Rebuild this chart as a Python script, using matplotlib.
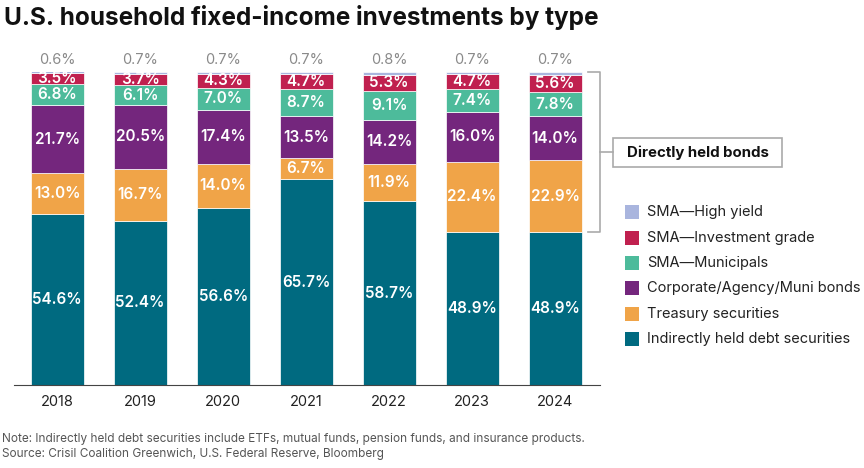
import numpy as np
import matplotlib.pyplot as plt
from matplotlib.patches import Rectangle

years = ["2018", "2019", "2020", "2021", "2022", "2023", "2024"]
indirect = [54.6, 52.4, 56.6, 65.7, 58.7, 48.9, 48.9]
treasury = [13.0, 16.7, 14.0, 6.7, 11.9, 22.4, 22.9]
corporate = [21.7, 20.5, 17.4, 13.5, 14.2, 16.0, 14.0]
sma_muni = [6.8, 6.1, 7.0, 8.7, 9.1, 7.4, 7.8]
sma_ig = [3.5, 3.7, 4.3, 4.7, 5.3, 4.7, 5.6]
sma_hy = [0.6, 0.7, 0.7, 0.7, 0.8, 0.7, 0.7]

series_names = ["Indirectly held debt securities", "Treasury securities",
                "Corporate/Agency/Muni bonds", "SMA\u2014Municipals",
                "SMA\u2014Investment grade", "SMA\u2014High yield"]
colors = ["#006A80", "#F0A448", "#74267D", "#4DBB9B", "#C0204F", "#A9B5DE"]

plt.rcParams['font.family'] = ['Inter', 'DejaVu Sans']

fig = plt.figure(figsize=(8.64, 4.68), dpi=100)
W, H = 864, 468
ax = fig.add_axes([14 / W, (H - 385) / H, 586 / W, 313 / H])

x = np.arange(len(years))
series = [indirect, treasury, corporate, sma_muni, sma_ig, sma_hy]
bottom = np.zeros(len(years))
for i, (vals, col) in enumerate(zip(series, colors)):
    vals = np.array(vals)
    ax.bar(x, vals, 0.64, bottom=bottom, color=col, edgecolor="white", linewidth=0.5)
    if i < 5:
        for xi, b, v in zip(x, bottom, vals):
            ax.text(xi, b + v / 2, f"{v:.1f}%", ha="center", va="center",
                    color="white", fontsize=11, fontweight="semibold")
    else:
        for xi, b, v in zip(x, bottom, vals):
            ax.text(xi, 101.5, f"{v:.1f}%", ha="center", va="bottom",
                    color="#8a8a8a", fontsize=10.5, clip_on=False)
    bottom += vals

ax.set_xlim(-0.52, 6.54)
ax.set_ylim(0, 100)
for s in ["top", "right", "left"]:
    ax.spines[s].set_visible(False)
ax.spines["bottom"].set_color("#444444")
ax.set_yticks([])
ax.set_xticks(x)
ax.set_xticklabels(years, fontsize=10.5, color="#222222")
ax.tick_params(axis="x", length=0, pad=7)

# bracket for directly held bonds
def fy(v):
    return (H - v) / H

def fx(v):
    return v / W

gray = "#aaaaaa"
fig.add_artist(plt.Line2D([fx(588), fx(600), fx(600), fx(588)],
                          [fy(72), fy(72), fy(232), fy(232)], color=gray, lw=1.2))
fig.add_artist(plt.Line2D([fx(600), fx(613)], [fy(152), fy(152)], color=gray, lw=1.2))
fig.add_artist(Rectangle((fx(613), fy(167)), fx(782 - 613), (167 - 138) / H,
                         facecolor="white", edgecolor=gray, lw=1.2))
fig.text(fx(698), fy(152.5), "Directly held bonds", ha="center", va="center",
         fontsize=10.8, fontweight="bold", color="#111111")

# legend
legend_y = [212, 238, 263, 288, 314, 339]
for yy, name, col in zip(legend_y, series_names[::-1], colors[::-1]):
    fig.add_artist(Rectangle((fx(625), fy(yy + 7)), fx(14), 14 / H,
                             facecolor=col, edgecolor="none"))
    fig.text(fx(647), fy(yy), name, ha="left", va="center", fontsize=10.5, color="#222222")

fig.text(fx(4), fy(18), "U.S. household fixed-income investments by type",
         ha="left", va="center", fontsize=17.5, fontweight="bold", color="#111111")
fig.text(fx(2), fy(439), "Note: Indirectly held debt securities include ETFs, mutual funds, pension funds, and insurance products.",
         ha="left", va="center", fontsize=8.5, color="#555555")
fig.text(fx(2), fy(454), "Source: Crisil Coalition Greenwich, U.S. Federal Reserve, Bloomberg",
         ha="left", va="center", fontsize=8.5, color="#555555")

fig.savefig("out.png", dpi=100)
